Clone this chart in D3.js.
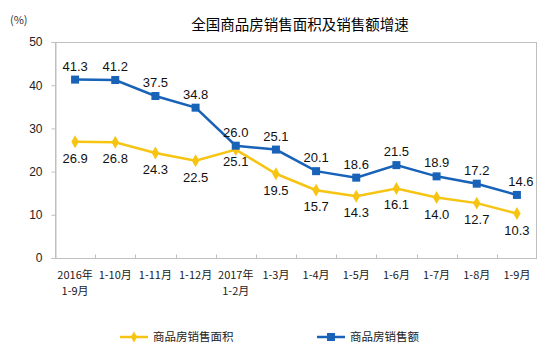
<!DOCTYPE html>
<html><head><meta charset="utf-8">
<script src="https://cdn.jsdelivr.net/npm/d3@7"></script>
<style>body{margin:0;background:#fff}svg{display:block}</style>
</head><body>
<svg id="c" width="554" height="358"></svg>
<script>
const categories = [["2016年","1-9月"],["1-10月"],["1-11月"],["1-12月"],["2017年","1-2月"],["1-3月"],["1-4月"],["1-5月"],["1-6月"],["1-7月"],["1-8月"],["1-9月"]];
const areaGrowth = [26.9,26.8,24.3,22.5,25.1,19.5,15.7,14.3,16.1,14.0,12.7,10.3];
const salesGrowth = [41.3,41.2,37.5,34.8,26.0,25.1,20.1,18.6,21.5,18.9,17.2,14.6];
const yTicks = [0,10,20,30,40,50];
const seriesNames = ["商品房销售面积","商品房销售额"];
const title = "全国商品房销售面积及销售额增速";

const svg = d3.select("#c");
const m = {l:55, r:537, t:42, b:258};
const yellow = "#f6c412", blue = "#1862b8", axisC = "#bfbfbf";
const cjk = "'Noto Sans CJK SC', sans-serif";
const lat = "'Liberation Sans', Arial, sans-serif";

const x = d3.scaleBand().domain(d3.range(categories.length)).range([m.l, m.r]);
const y = d3.scaleLinear().domain([0,50]).range([m.b, m.t]);
const cx = i => x(i) + x.bandwidth()/2;

svg.append("text").attr("x",300).attr("y",30).attr("text-anchor","middle")
  .attr("font-family",cjk).attr("font-size",14.5).attr("fill","#000").text(title);
svg.append("text").attr("x",10).attr("y",24).attr("font-family",cjk).attr("font-size",11).attr("fill","#333").text("(%)");

// plot border
svg.append("rect").attr("x",m.l+0.5).attr("y",m.t+0.5).attr("width",m.r-m.l-1).attr("height",m.b-m.t)
  .attr("fill","none").attr("stroke",axisC);

// y axis
const ya = svg.append("g").attr("transform",`translate(${m.l+0.5},0)`)
  .call(d3.axisLeft(y).tickValues(yTicks).tickSize(4).tickPadding(9));
ya.select(".domain").attr("stroke",axisC);
ya.selectAll("line").attr("stroke",axisC);
ya.selectAll("text").attr("font-family",lat).attr("font-size",12).attr("fill","#222");

// x axis ticks (inside)
const xa = svg.append("g").attr("transform",`translate(0,${m.b+0.5})`);
xa.append("line").attr("x1",m.l).attr("x2",m.r).attr("stroke",axisC);
xa.selectAll("line.t").data(d3.range(1,categories.length)).join("line").attr("class","t")
  .attr("x1",i=>Math.round(x(i))+0.5).attr("x2",i=>Math.round(x(i))+0.5).attr("y1",0).attr("y2",-4).attr("stroke",axisC);
xa.selectAll("text").data(categories).join("text")
  .attr("font-family",cjk).attr("font-size",11).attr("fill","#222").attr("text-anchor","middle")
  .each(function(d,i){
    d3.select(this).selectAll("tspan").data(d).join("tspan")
      .attr("x",cx(i)).attr("y",(t,j)=>20+j*16).text(t=>t);
  });

const line = d3.line().x((d,i)=>cx(i)).y(d=>y(d));
svg.append("path").datum(areaGrowth).attr("d",line).attr("fill","none").attr("stroke",yellow).attr("stroke-width",2.5);
svg.append("path").datum(salesGrowth).attr("d",line).attr("fill","none").attr("stroke",blue).attr("stroke-width",2.5);

const diamond = d3.symbol().type(d3.symbolDiamond).size(48);
svg.selectAll("path.dm").data(areaGrowth).join("path").attr("class","dm")
  .attr("transform",(d,i)=>`translate(${cx(i)},${y(d)})`).attr("d",diamond()).attr("fill",yellow);
svg.selectAll("rect.sq").data(salesGrowth).join("rect").attr("class","sq")
  .attr("x",(d,i)=>cx(i)-4).attr("y",d=>y(d)-4).attr("width",8).attr("height",8).attr("fill",blue);

svg.selectAll("text.la").data(areaGrowth).join("text").attr("class","la")
  .attr("x",(d,i)=>cx(i)).attr("y",(d,i)=>y(d)+(i===4?16:21))
  .attr("text-anchor","middle").attr("font-family",lat).attr("font-size",13).attr("fill","#111")
  .text(d=>d.toFixed(1));
svg.selectAll("text.lb").data(salesGrowth).join("text").attr("class","lb")
  .attr("x",(d,i)=>cx(i)+(i===11?4:0)).attr("y",d=>y(d)-9)
  .attr("text-anchor","middle").attr("font-family",lat).attr("font-size",13).attr("fill","#111")
  .text(d=>d.toFixed(1));

// legend
const lg = svg.append("g");
const items = [{c:yellow, x:120, shape:"d"},{c:blue, x:317, shape:"s"}];
items.forEach((it,k)=>{
  const g = lg.append("g").attr("transform",`translate(${it.x},337)`);
  g.append("line").attr("x1",0).attr("x2",28).attr("stroke",it.c).attr("stroke-width",2.5);
  if(it.shape==="d") g.append("path").attr("transform","translate(14,0)").attr("d",d3.symbol().type(d3.symbolDiamond).size(36)()).attr("fill",it.c);
  else g.append("rect").attr("x",10).attr("y",-4).attr("width",8).attr("height",8).attr("fill",it.c);
  g.append("text").attr("x",33).attr("y",4).attr("font-family",cjk).attr("font-size",11.5).attr("fill","#222").text(seriesNames[k]);
});
</script>
</body></html>
